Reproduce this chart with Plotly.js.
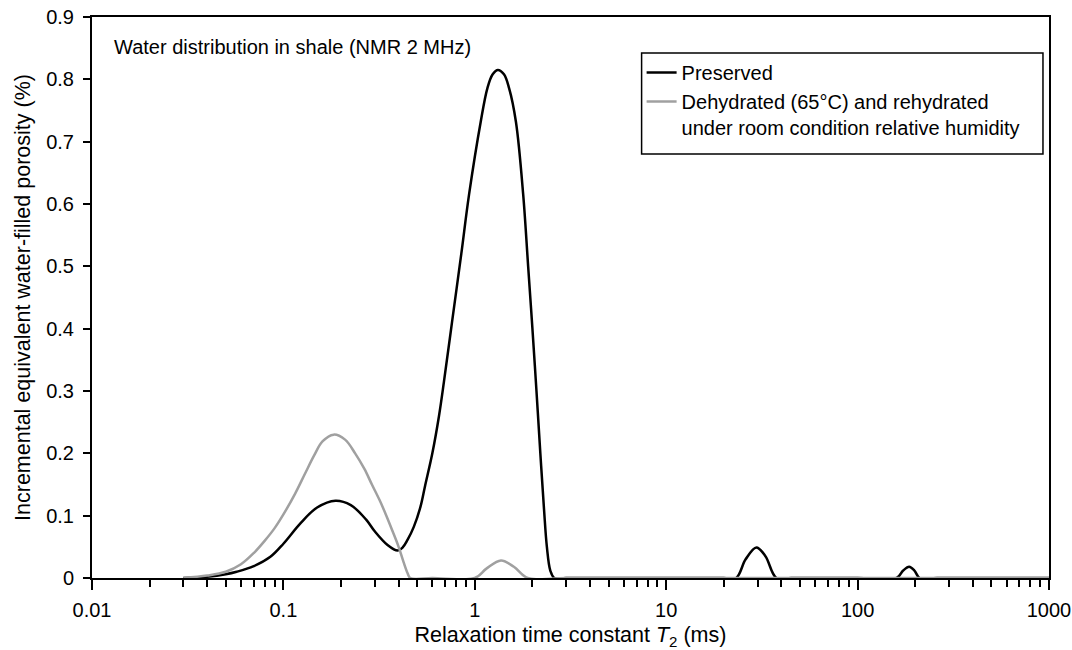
<!DOCTYPE html>
<html>
<head>
<meta charset="utf-8">
<script src="https://cdn.plot.ly/plotly-3.0.1.min.js"></script>
<style>
  html, body { margin: 0; padding: 0; background: #ffffff; }
  #chart { width: 1072px; height: 650px; }
</style>
</head>
<body>
<div id="chart"></div>
<script>
// Relaxation time T2 (ms) and incremental porosity (%)
const preservedT2 = [0.03, 0.04, 0.05, 0.057, 0.07, 0.0855, 0.1, 0.123, 0.15, 0.187, 0.225, 0.27, 0.3, 0.35, 0.395, 0.42, 0.445, 0.48, 0.52, 0.55, 0.6, 0.65, 0.69, 0.76, 0.85, 0.933, 1.074, 1.164, 1.24, 1.32, 1.42, 1.51, 1.64, 1.79, 1.9, 2.0, 2.1, 2.2, 2.3, 2.38, 2.48, 2.6, 3, 10, 20, 23.2, 26, 29.6, 33, 37.7, 45, 100, 160, 173, 186, 198, 211, 260, 1000];
const preservedPhi = [0, 0.002, 0.006, 0.010, 0.019, 0.034, 0.055, 0.088, 0.113, 0.124, 0.117, 0.094, 0.075, 0.053, 0.044, 0.049, 0.061, 0.082, 0.114, 0.148, 0.2, 0.26, 0.315, 0.41, 0.52, 0.615, 0.732, 0.786, 0.808, 0.815, 0.808, 0.786, 0.732, 0.615, 0.5, 0.4, 0.3, 0.2, 0.11, 0.05, 0.012, 0, 0, 0, 0, 0, 0.03, 0.049, 0.035, 0, 0, 0, 0, 0.012, 0.018, 0.012, 0, 0, 0];

const dehydratedT2 = [0.03, 0.04, 0.05, 0.06, 0.07, 0.08, 0.09, 0.1, 0.115, 0.13, 0.145, 0.16, 0.183, 0.21, 0.237, 0.265, 0.29, 0.318, 0.345, 0.372, 0.4, 0.425, 0.445, 0.46, 0.6, 1.0, 1.15, 1.37, 1.6, 1.89, 3, 10, 100, 1000];
const dehydratedPhi = [0, 0.004, 0.010, 0.022, 0.040, 0.060, 0.080, 0.102, 0.135, 0.168, 0.197, 0.219, 0.23, 0.222, 0.2, 0.175, 0.15, 0.125, 0.1, 0.075, 0.05, 0.025, 0.008, 0, 0, 0, 0.015, 0.028, 0.018, 0, 0, 0, 0, 0];

const xTickVals = [0.01, 0.1, 1, 10, 100, 1000];
const xTickText = ["0.01", "0.1", "1", "10", "100", "1000"];
const yTickVals = [0, 0.1, 0.2, 0.3, 0.4, 0.5, 0.6, 0.7, 0.8, 0.9];
const yTickText = ["0", "0.1", "0.2", "0.3", "0.4", "0.5", "0.6", "0.7", "0.8", "0.9"];

const seriesNames = ["Preserved", "Dehydrated (65°C) and rehydrated<br>under room condition relative humidity"];

const FONT = "Arial, 'Liberation Sans', Helvetica, sans-serif";

const traces = [
  {
    x: preservedT2, y: preservedPhi, name: seriesNames[0],
    type: "scatter", mode: "lines",
    line: { color: "#000000", width: 2.5, shape: "spline", smoothing: 1 }
  },
  {
    x: dehydratedT2, y: dehydratedPhi, name: seriesNames[1],
    type: "scatter", mode: "lines",
    line: { color: "#a0a0a0", width: 2.5, shape: "spline", smoothing: 1 }
  }
];

const layout = {
  width: 1072, height: 650,
  margin: { l: 92, r: 23, t: 17, b: 72 },
  paper_bgcolor: "#ffffff", plot_bgcolor: "#ffffff",
  font: { family: FONT, size: 20, color: "#000000" },
  showlegend: true,
  legend: {
    x: 0.5743, xanchor: "left", y: 0.9358, yanchor: "top",
    borderwidth: 0, bgcolor: "rgba(0,0,0,0)",
    font: { family: FONT, size: 20, color: "#000000" },
    valign: "top", tracegroupgap: 2
  },
  shapes: [
    {
      type: "rect", xref: "paper", yref: "paper",
      x0: 0.5743, x1: 0.9937, y0: 0.7558, y1: 0.9358,
      line: { color: "#000000", width: 1.5 }, fillcolor: "rgba(0,0,0,0)", layer: "above"
    }
  ],
  xaxis: {
    type: "log", range: [-2, 3],
    tickvals: xTickVals, ticktext: xTickText,
    ticks: "outside", ticklen: 10, tickwidth: 2, tickcolor: "#000000",
    minor: { ticks: "outside", ticklen: 7, tickwidth: 2, tickcolor: "#000000", dtick: "D1", showgrid: false },
    showline: true, linecolor: "#000000", linewidth: 2, mirror: true,
    showgrid: false, zeroline: false,
    tickfont: { family: FONT, size: 20 },
    ticklabelstandoff: 3,
    title: { text: "Relaxation time constant <i>T</i><sub>2</sub> (ms)", font: { family: FONT, size: 21.5 }, standoff: 8 }
  },
  yaxis: {
    range: [0, 0.9],
    tickvals: yTickVals, ticktext: yTickText,
    ticks: "outside", ticklen: 7, tickwidth: 2, tickcolor: "#000000",
    showline: true, linecolor: "#000000", linewidth: 2, mirror: true,
    showgrid: false, zeroline: false,
    tickfont: { family: FONT, size: 20 },
    ticklabelstandoff: 5,
    title: { text: "Incremental equivalent water-filled porosity (%)", font: { family: FONT, size: 21.5 }, standoff: 10 }
  },
  annotations: [
    {
      xref: "paper", yref: "paper", x: 0.0209, y: 0.947,
      xanchor: "left", yanchor: "middle", showarrow: false,
      text: "Water distribution in shale (NMR 2 MHz)",
      font: { family: FONT, size: 20, color: "#000000" }
    }
  ]
};

Plotly.newPlot("chart", traces, layout, { staticPlot: true, displayModeBar: false });
</script>
</body>
</html>
